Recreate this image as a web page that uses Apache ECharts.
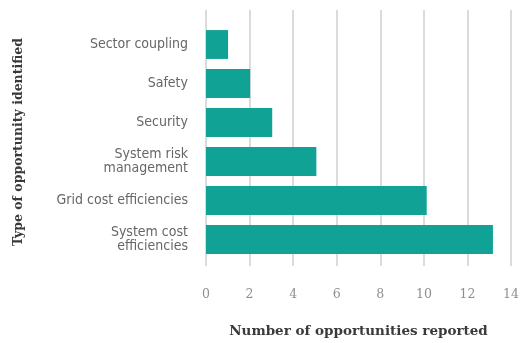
<!DOCTYPE html>
<html>
<head>
<meta charset="utf-8">
<script src="https://cdn.jsdelivr.net/npm/echarts@6/dist/echarts.min.js"></script>
<style>
  html, body { margin: 0; padding: 0; background: #fff; }
  #chart { width: 522px; height: 343px; }
</style>
</head>
<body>
<div id="chart"></div>
<script>
const categories = [
  'Sector coupling',
  'Safety',
  'Security',
  'System risk\nmanagement',
  'Grid cost efficiencies',
  'System cost\nefficiencies'
]
const counts = [1, 2, 3, 5, 10, 13]
const xTicks = [0, 2, 4, 6, 8, 10, 12, 14]

const teal = '#10a294'
const serif = "'DejaVu Serif', 'Liberation Serif', serif"
const narrow = "'DejaVu Sans Condensed', 'Roboto', sans-serif"

const chart = echarts.init(document.getElementById('chart'), null, { renderer: 'canvas' })

chart.setOption({
  animation: false,
  backgroundColor: '#fff',
  grid: [
    // gridlines + x axis labels
    { left: 206, right: 7, top: 10, bottom: 71 },
    // bars
    { left: 206, right: 7, top: 25, height: 234 }
  ],
  xAxis: [
    {
      type: 'value',
      gridIndex: 0,
      min: xTicks[0],
      max: xTicks[xTicks.length - 1],
      interval: 2,
      axisLine: { show: false },
      axisTick: { show: false },
      splitLine: { show: true, lineStyle: { color: '#cfcfcf', width: 1.5 } },
      axisLabel: { color: '#8f8f8f', fontSize: 12.5, fontFamily: serif, margin: 22 },
      name: 'Number of opportunities reported',
      nameLocation: 'middle',
      nameGap: 58,
      nameTextStyle: { color: '#3a3a3a', fontSize: 13.5, fontWeight: 'bold', fontFamily: serif }
    },
    {
      type: 'value',
      gridIndex: 1,
      min: xTicks[0],
      max: xTicks[xTicks.length - 1],
      show: false
    }
  ],
  yAxis: [
    {
      type: 'value',
      gridIndex: 0,
      show: false
    },
    {
      type: 'category',
      gridIndex: 1,
      data: categories,
      inverse: true,
      axisLine: { show: false },
      axisTick: { show: false },
      axisLabel: {
        color: '#666',
        fontSize: 14,
        fontFamily: narrow,
        margin: 18,
        lineHeight: 14,
        align: 'right'
      },
      name: 'Type of opportunity identified',
      nameLocation: 'middle',
      nameGap: 181,
      nameRotate: 90,
      nameTextStyle: { color: '#3a3a3a', fontSize: 12.5, fontWeight: 'bold', fontFamily: serif }
    }
  ],
  series: [
    {
      type: 'bar',
      xAxisIndex: 1,
      yAxisIndex: 1,
      data: counts,
      barCategoryGap: '26%',
      itemStyle: { color: teal }
    }
  ]
})
</script>
</body>
</html>
